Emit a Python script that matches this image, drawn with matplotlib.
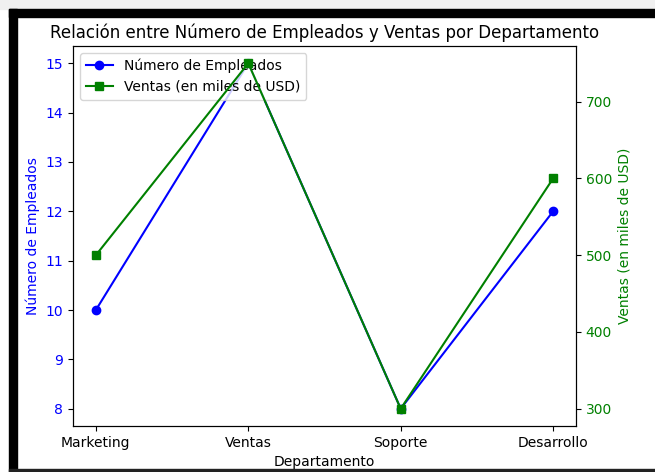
import matplotlib.pyplot as plt
from matplotlib.patches import Rectangle

# Data
departamentos = ['Marketing', 'Ventas', 'Soporte', 'Desarrollo']
empleados = [10, 15, 8, 12]
ventas = [500, 750, 300, 600]

W, H = 655, 472
fig = plt.figure(figsize=(W / 100, H / 100), dpi=100)
ax1 = fig.add_axes([73 / W, 1 - 426 / H, (576 - 73) / W, (426 - 46) / H])

# Screenshot frame around the figure
def px_rect(x0, y0, x1, y1, color):
    fig.patches.append(Rectangle((x0 / W, 1 - y1 / H), (x1 - x0) / W, (y1 - y0) / H,
                                 transform=fig.transFigure, color=color, zorder=-1))

px_rect(0, 0, W, 9, '#f0f0f0')
px_rect(9, 9, W, 17, 'black')
px_rect(9, 9, 17, H, 'black')
px_rect(9, 469, W, H, '#222222')

l1, = ax1.plot(departamentos, empleados, color='b', marker='o', label='Número de Empleados')
ax1.set_xlabel('Departamento')
ax1.set_ylabel('Número de Empleados', color='b')
ax1.tick_params(axis='y', labelcolor='b')

ax2 = ax1.twinx()
l2, = ax2.plot(departamentos, ventas, color='g', marker='s', label='Ventas (en miles de USD)')
ax2.set_ylabel('Ventas (en miles de USD)', color='g')
ax2.tick_params(axis='y', labelcolor='g')

ax1.legend(handles=[l1, l2], loc='upper left')
ax1.set_title('Relación entre Número de Empleados y Ventas por Departamento')

fig.savefig('out.png', dpi=100)
